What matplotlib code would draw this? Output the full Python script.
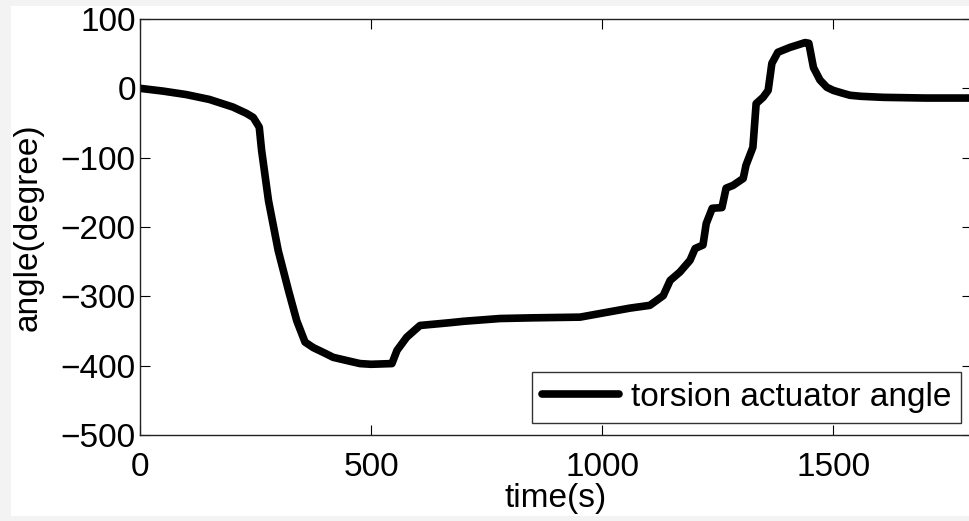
import matplotlib
matplotlib.use("Agg")
import matplotlib.pyplot as plt
from matplotlib.patches import Rectangle

# torsion actuator angle trace
time_s = [0, 50, 100, 150, 201, 230, 245, 258, 263, 278, 299, 321, 339, 357, 375,
          400, 418, 450, 476, 500, 545, 556, 577, 599, 606, 671, 700, 779, 850,
          952, 1060, 1103, 1132, 1147, 1168, 1190, 1201, 1218, 1225, 1238, 1259,
          1268, 1283, 1305, 1311, 1326, 1333, 1348, 1359, 1367, 1380, 1406, 1439,
          1447, 1457, 1471, 1486, 1500, 1520, 1536, 1560, 1608, 1700, 1800]
angle_deg = [0, -4, -9, -16, -27, -36, -42, -56, -89, -162, -234, -291, -335,
             -366, -374, -382, -388, -393, -397, -398, -397, -378, -359, -346,
             -342, -338, -336, -332, -331, -330, -317, -313, -299, -277, -265,
             -248, -231, -226, -195, -173, -172, -144, -140, -130, -111, -85, -22,
             -13, -3, 36, 52, 59, 66, 65, 30, 12, 1.5, -3, -7, -10, -11.5, -13,
             -14, -14]

x_ticks = [0, 500, 1000, 1500]
y_ticks = [-500, -400, -300, -200, -100, 0, 100]

plt.rcParams['font.family'] = ['Liberation Sans', 'DejaVu Sans']

fig = plt.figure(figsize=(9.69, 5.21), dpi=100, facecolor='#f3f3f3')
fig.patches.append(Rectangle((11 / 969, 5 / 521), 1, 1 - 11 / 521,
                             transform=fig.transFigure, facecolor='white',
                             edgecolor='none', zorder=-10))

ax = fig.add_axes([140 / 969, 86 / 521, 832 / 969, 416 / 521])
ax.plot(time_s, angle_deg, color='black', linewidth=5.5,
        solid_joinstyle='round', solid_capstyle='round',
        label='torsion actuator angle')

ax.set_xlim(0, 1800)
ax.set_ylim(-500, 100)
ax.set_xticks(x_ticks)
ax.set_yticks(y_ticks)
ax.tick_params(direction='in', length=7, width=0.8, labelsize=24,
               top=True, right=True)
ax.tick_params(axis='x', pad=12)
ax.tick_params(axis='y', pad=3)
for sp in ax.spines.values():
    sp.set_linewidth(1.0)
    sp.set_color('#222222')

ax.set_xlabel('time(s)', fontsize=24, labelpad=0)
ax.set_ylabel('angle(degree)', fontsize=24, labelpad=12)

leg = ax.legend(loc='lower right', fontsize=24, frameon=True, fancybox=False,
                handlelength=2.3, handletextpad=0.35, borderpad=0.3,
                borderaxespad=0, bbox_to_anchor=(0.987, 0.029))
leg.get_frame().set_edgecolor('black')
leg.get_frame().set_linewidth(1.0)

fig.savefig('out.png', dpi=100, facecolor=fig.get_facecolor())
